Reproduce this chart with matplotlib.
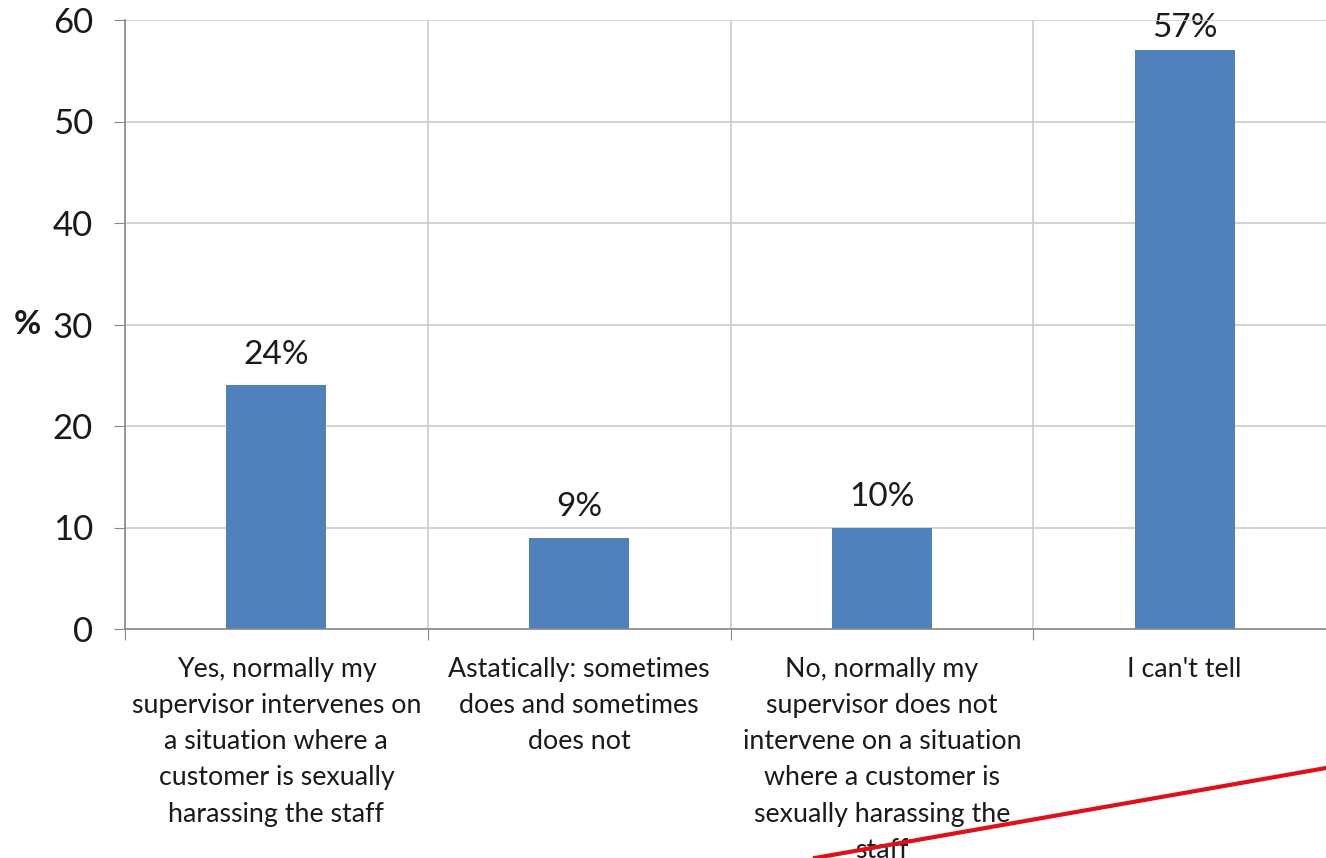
import numpy as np
import matplotlib
matplotlib.use("Agg")
import matplotlib.pyplot as plt
from matplotlib.lines import Line2D

# data
categories = [
    "Yes, normally my\nsupervisor intervenes on\na situation where a\ncustomer is sexually\nharassing the staff",
    "Astatically: sometimes\ndoes and sometimes\ndoes not",
    "No, normally my\nsupervisor does not\nintervene on a situation\nwhere a customer is\nsexually harassing the\nstaff",
    "I can't tell",
]
values = [24, 9, 10, 57]
value_labels = ["24%", "9%", "10%", "57%"]
y_ticks = [0, 10, 20, 30, 40, 50, 60]

plt.rcParams['font.family'] = ['Lato', 'DejaVu Sans']

W, H = 1326, 858
fig = plt.figure(figsize=(W / 100, H / 100), dpi=100)
ax = fig.add_axes([125 / W, (H - 629) / H, (1336 - 125) / W, (629 - 20) / H])

index = np.arange(len(values))
ax.bar(index, values, 0.33, color='#4F81BD', zorder=3)

# labels above bars, kept inside the plot area like excel does
for i, (v, lab) in enumerate(zip(values, value_labels)):
    ax.annotate(lab, (i, min(v, 56.2)), xytext=(0, 11), textcoords='offset points',
                ha='center', va='bottom', fontsize=24, color='#1a1a1a', zorder=1)

ax.set_xlim(-0.5, len(values) - 0.5)
ax.set_ylim(0, 60)
ax.set_yticks(y_ticks)
ax.tick_params(axis='y', labelsize=25, length=8, color='#888888', pad=15,
               labelcolor='#1a1a1a')

# category boundaries carry the ticks and vertical gridlines
ax.set_xticks(np.arange(len(values) + 1) - 0.5)
ax.set_xticklabels([])
ax.set_xticks(index, minor=True)
ax.set_xticklabels(categories, minor=True, fontsize=19.3, color='#1a1a1a',
                   linespacing=1.56, va='top')
ax.tick_params(axis='x', which='major', length=8, color='#888888')
ax.tick_params(axis='x', which='minor', length=0, pad=20)

ax.grid(True, which='major', color='#cccccc', lw=1.2, zorder=2)
ax.set_axisbelow(False)
for s in ['top', 'right']:
    ax.spines[s].set_visible(False)
for s in ['left', 'bottom']:
    ax.spines[s].set_color('#888888')
    ax.spines[s].set_linewidth(1.2)
    ax.spines[s].set_zorder(4)

fig.text(14 / W, 1 - 325 / H, '%', fontsize=24, fontweight='bold',
         va='center', ha='left', color='#1a1a1a')

# red stroke across the bottom right corner
fig.add_artist(Line2D([815 / W, 1.0], [0.0, 1 - 768 / H], color='#e0101a',
                      lw=3, transform=fig.transFigure))

fig.savefig("out.png", dpi=100)
